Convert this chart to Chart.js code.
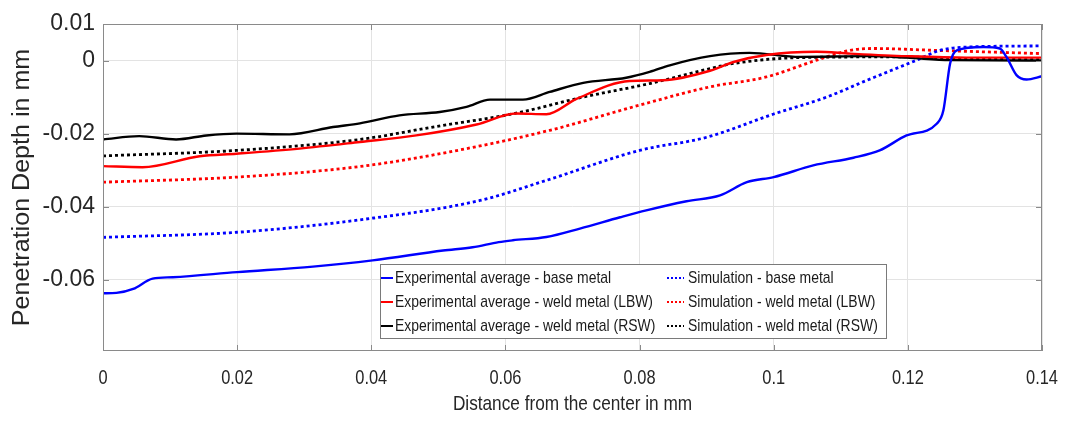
<!DOCTYPE html>
<html>
<head>
<meta charset="utf-8">
<script src="https://cdn.jsdelivr.net/npm/chart.js@4.4.1/dist/chart.umd.min.js"></script>
<style>
  body { margin: 0; background: #fff; }
  #wrap { width: 1070px; height: 421px; }
</style>
</head>
<body>
<div id="wrap"><canvas id="myChart"></canvas></div>
<script>
// values (x and y in mm)
const xTicks = [0, 0.02, 0.04, 0.06, 0.08, 0.1, 0.12, 0.14];
const yTicks = [-0.06, -0.04, -0.02, 0, 0.01];
const xTitle = 'Distance from the center in mm';
const yTitle = 'Penetration Depth in mm';

const expBaseX = [0, 0.002, 0.0045, 0.0074, 0.0104, 0.02, 0.0313, 0.0402, 0.0507, 0.0551, 0.059, 0.0611, 0.0661, 0.0711, 0.0771, 0.081, 0.087, 0.092, 0.096, 0.1, 0.1059, 0.1119, 0.1158, 0.1198, 0.1243, 0.1253, 0.1263, 0.1273, 0.1313, 0.1337, 0.1347, 0.1362, 0.1377, 0.14];
const expBaseY = [-0.0637, -0.0636, -0.0625, -0.0597, -0.0593, -0.0579, -0.0564, -0.0547, -0.052, -0.0511, -0.0497, -0.0492, -0.0483, -0.046, -0.0429, -0.041, -0.0385, -0.0369, -0.0333, -0.0319, -0.0287, -0.0266, -0.0246, -0.0205, -0.0173, -0.0136, -0.0008, 0.0028, 0.0037, 0.0033, 0.001, -0.004, -0.0052, -0.0043];

const expLbwX = [0, 0.0059, 0.0144, 0.0199, 0.0293, 0.0383, 0.0467, 0.0557, 0.0616, 0.0661, 0.0706, 0.0785, 0.0835, 0.0905, 0.094, 0.0989, 0.1064, 0.1114, 0.1198, 0.1288, 0.14];
const expLbwY = [-0.0289, -0.0292, -0.0262, -0.0255, -0.0241, -0.0223, -0.0205, -0.0175, -0.0145, -0.0147, -0.0105, -0.0056, -0.0054, -0.0028, -0.0004, 0.0015, 0.0024, 0.0019, 0.0012, 0.0008, 0.0008];

const expRswX = [0, 0.0054, 0.0109, 0.0154, 0.0199, 0.0278, 0.0343, 0.0383, 0.0442, 0.0502, 0.0542, 0.0577, 0.0626, 0.0666, 0.0716, 0.078, 0.0815, 0.0845, 0.0905, 0.0964, 0.1039, 0.1139, 0.1198, 0.1263, 0.14];
const expRswY = [-0.0216, -0.0207, -0.0216, -0.0205, -0.02, -0.0202, -0.0182, -0.0172, -0.015, -0.0141, -0.0127, -0.0107, -0.0107, -0.0086, -0.0061, -0.0047, -0.0031, -0.0013, 0.0012, 0.0021, 0.001, 0.0012, 0.0008, 0.0001, 0];

const simBaseX = [0, 0.02, 0.0383, 0.0562, 0.0661, 0.08, 0.09, 0.0999, 0.1079, 0.1139, 0.1213, 0.1248, 0.1288, 0.14];
const simBaseY = [-0.0484, -0.047, -0.0436, -0.0383, -0.0328, -0.0246, -0.021, -0.0147, -0.01, -0.0054, 0.0001, 0.0028, 0.0037, 0.004];

const simLbwX = [0, 0.02, 0.0383, 0.0517, 0.0666, 0.08, 0.0905, 0.0989, 0.1064, 0.1114, 0.1148, 0.1238, 0.14];
const simLbwY = [-0.0333, -0.0319, -0.029, -0.025, -0.0191, -0.0122, -0.0072, -0.0045, 0.0001, 0.0028, 0.0033, 0.0028, 0.0019];

const simRswX = [0, 0.0199, 0.0383, 0.0492, 0.0616, 0.0716, 0.0815, 0.0905, 0.094, 0.1039, 0.1188, 0.1288, 0.14];
const simRswY = [-0.0261, -0.0246, -0.0216, -0.0182, -0.0144, -0.01, -0.0063, -0.0022, -0.0008, 0.0008, 0.001, 0.0005, 0.0002];

const blue = '#0000ff';
const red = '#ff0000';
const black = '#000000';
const axisGrey = '#8a8a8a';
const textGrey = '#262626';
const fontFam = '"Liberation Sans", Arial, sans-serif';
const squeeze = 0.82; // the figure's horizontal text is condensed

function pts(xs, ys) {
    return xs.map((x, i) => ({ x: x, y: ys[i] }));
}

function solid(label, xs, ys, color) {
    return { label: label, data: pts(xs, ys), borderColor: color, borderWidth: 2.4, pointRadius: 0, cubicInterpolationMode: 'monotone', fill: false };
}
function dotted(label, xs, ys, color) {
    return { label: label, data: pts(xs, ys), borderColor: color, borderWidth: 2.8, borderDash: [3, 3], pointRadius: 0, cubicInterpolationMode: 'monotone', fill: false };
}

function squeezedText(ctx, text, x, y, sx, align) {
    ctx.save();
    ctx.translate(x, y);
    ctx.scale(sx, 1);
    ctx.textAlign = align;
    ctx.fillText(text, 0, 0);
    ctx.restore();
}

// box, inward tick marks, condensed x labels, titles and the two-column legend
const matlabAxes = {
    id: 'matlabAxes',
    afterDraw(chart) {
        const ctx = chart.ctx;
        const a = chart.chartArea;
        const xs = chart.scales.x, ys = chart.scales.y;
        ctx.save();
        ctx.strokeStyle = axisGrey;
        ctx.lineWidth = 1;
        ctx.strokeRect(a.left + 0.5, a.top + 0.5, a.right - a.left - 1, a.bottom - a.top - 1);
        ctx.beginPath();
        xTicks.forEach(v => {
            const px = Math.round(xs.getPixelForValue(v)) + 0.5;
            ctx.moveTo(px, a.bottom); ctx.lineTo(px, a.bottom - 6);
            ctx.moveTo(px, a.top); ctx.lineTo(px, a.top + 6);
        });
        yTicks.forEach(v => {
            const py = Math.round(ys.getPixelForValue(v)) + 0.5;
            ctx.moveTo(a.left, py); ctx.lineTo(a.left + 6, py);
            ctx.moveTo(a.right, py); ctx.lineTo(a.right - 6, py);
        });
        ctx.stroke();

        // x tick labels and axis titles
        ctx.fillStyle = textGrey;
        ctx.textBaseline = 'middle';
        ctx.font = '20px ' + fontFam;
        xTicks.forEach(v => {
            squeezedText(ctx, String(v), xs.getPixelForValue(v), a.bottom + 27, squeeze, 'center');
        });
        ctx.font = '21px ' + fontFam;
        squeezedText(ctx, xTitle, (a.left + a.right) / 2, a.bottom + 53, squeeze, 'center');

        ctx.save();
        ctx.font = '23px ' + fontFam;
        ctx.translate(23, (a.top + a.bottom) / 2);
        ctx.rotate(-Math.PI / 2);
        ctx.scale(1.09, 1);
        ctx.textAlign = 'center';
        ctx.fillText(yTitle, 0, 0);
        ctx.restore();

        // legend
        const lx = 380, ly = 264, lw = 506, lh = 74;
        ctx.fillStyle = '#fff';
        ctx.fillRect(lx, ly, lw, lh);
        ctx.strokeStyle = '#7a7a7a';
        ctx.strokeRect(lx + 0.5, ly + 0.5, lw, lh);
        ctx.font = '17px ' + fontFam;
        ctx.fillStyle = '#1a1a1a';
        chart.data.datasets.forEach((ds, i) => {
            const col = i < 3 ? 0 : 1;
            const row = i % 3;
            const cy = ly + 14 + row * 24;
            const x1 = col === 0 ? lx + 1 : lx + 287;
            const x2 = col === 0 ? lx + 13 : lx + 304;
            ctx.beginPath();
            ctx.strokeStyle = ds.borderColor;
            ctx.lineWidth = 2;
            ctx.setLineDash(ds.borderDash ? [2, 2] : []);
            ctx.moveTo(x1, cy); ctx.lineTo(x2, cy);
            ctx.stroke();
            ctx.setLineDash([]);
            squeezedText(ctx, ds.label, col === 0 ? lx + 15 : lx + 308, cy, squeeze, 'left');
        });
        ctx.restore();
    }
};

const ctx = document.getElementById('myChart').getContext('2d');
const myChart = new Chart(ctx, {
    type: 'line',
    data: {
        datasets: [
            solid('Experimental average - base metal', expBaseX, expBaseY, blue),
            solid('Experimental average - weld metal (LBW)', expLbwX, expLbwY, red),
            solid('Experimental average - weld metal (RSW)', expRswX, expRswY, black),
            dotted('Simulation - base metal', simBaseX, simBaseY, blue),
            dotted('Simulation - weld metal (LBW)', simLbwX, simLbwY, red),
            dotted('Simulation - weld metal (RSW)', simRswX, simRswY, black)
        ]
    },
    options: {
        responsive: true,
        maintainAspectRatio: false,
        animation: false,
        layout: { padding: { top: 24, right: 28, left: 0, bottom: 0 } },
        scales: {
            x: {
                type: 'linear',
                min: 0,
                max: 0.14,
                afterBuildTicks: s => { s.ticks = xTicks.map(v => ({ value: v })); },
                afterFit: s => { s.height = 70; },
                grid: { color: '#e3e3e3', drawTicks: false },
                border: { display: false },
                ticks: { display: false }
            },
            y: {
                min: -0.0795,
                max: 0.01,
                afterBuildTicks: s => { s.ticks = yTicks.map(v => ({ value: v })); },
                afterFit: s => { s.width = 103; },
                grid: { color: '#e3e3e3', drawTicks: false },
                border: { display: false },
                ticks: {
                    padding: 8,
                    color: textGrey,
                    font: { family: fontFam, size: 23 },
                    callback: v => String(v)
                }
            }
        },
        plugins: {
            legend: { display: false },
            tooltip: { enabled: false }
        }
    },
    plugins: [matlabAxes]
});
</script>
</body>
</html>
